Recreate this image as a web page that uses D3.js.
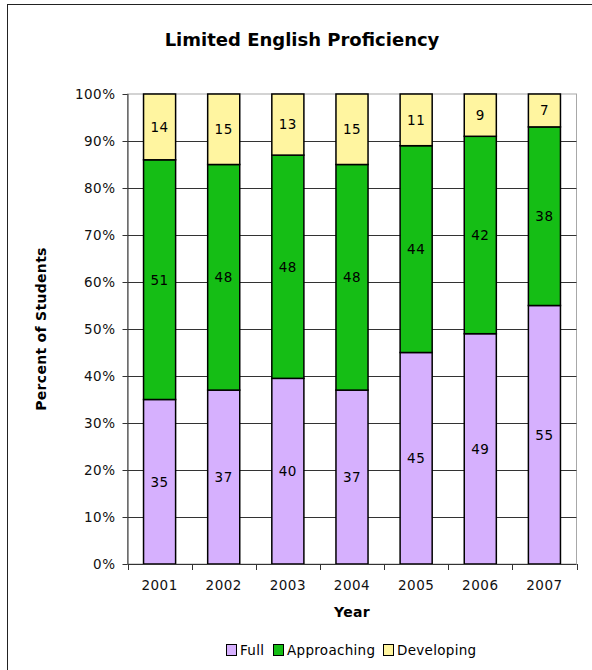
<!DOCTYPE html>
<html>
<head>
<meta charset="utf-8">
<script src="https://cdn.jsdelivr.net/npm/d3@7"></script>
<style>
  html, body { margin: 0; padding: 0; background: #fff; }
  svg { display: block; font-family: "DejaVu Sans", Verdana, sans-serif; }
</style>
</head>
<body>
<svg id="chart" width="592" height="670"></svg>
<script>
const years = ["2001", "2002", "2003", "2004", "2005", "2006", "2007"];
const full = [35, 37, 39.5, 37, 45, 49, 55];
const approaching = [51, 48, 47.5, 48, 44, 42, 38];
const developing = [14, 15, 13, 15, 11, 9, 7];
const seriesNames = ["Full", "Approaching", "Developing"];
const seriesColors = ["#d6b0fe", "#15be15", "#fff5a0"];
const yTicks = [0, 10, 20, 30, 40, 50, 60, 70, 80, 90, 100];
const titleText = "Limited English Proficiency";
const xTitle = "Year";
const yTitle = "Percent of Students";

const svg = d3.select("#chart");
const m = { left: 127.5, right: 576.5, top: 94, bottom: 564 };
const FS = "13.5px", LS = "0.5px";

// outer border
svg.append("rect").attr("x", 7.5).attr("y", 4.5).attr("width", 600).attr("height", 700)
  .attr("fill", "#fff").attr("stroke", "#222").attr("stroke-width", 1);

const table = years.map((y, i) => ({ year: y, Full: full[i], Approaching: approaching[i], Developing: developing[i] }));
const stack = d3.stack().keys(seriesNames)(table);

const x = d3.scaleBand().domain(years).range([m.left, m.right]).paddingInner(0.5).paddingOuter(0.25);
const y = d3.scaleLinear().domain([0, 100]).range([m.bottom, m.top]);

// plot area border
svg.append("rect").attr("x", m.left).attr("y", m.top).attr("width", m.right - m.left).attr("height", m.bottom - m.top)
  .attr("fill", "none").attr("stroke", "#a8a8a8").attr("stroke-width", 1);

// gridlines
svg.append("g").selectAll("line").data(yTicks.filter(t => t > 0 && t < 100)).join("line")
  .attr("x1", m.left).attr("x2", m.right)
  .attr("y1", d => Math.round(y(d)) + 0.5).attr("y2", d => Math.round(y(d)) + 0.5)
  .attr("stroke", "#333").attr("stroke-width", 1);

// bars
const colorOf = d3.scaleOrdinal().domain(seriesNames).range(seriesColors);
const groups = svg.append("g").selectAll("g").data(stack).join("g").attr("fill", d => colorOf(d.key));
groups.selectAll("rect").data(d => d).join("rect")
  .attr("x", d => x(d.data.year))
  .attr("width", x.bandwidth())
  .attr("y", d => y(d[1]))
  .attr("height", d => y(d[0]) - y(d[1]))
  .attr("stroke", "#000").attr("stroke-width", 1.5);

// labels
const lab = svg.append("g").attr("font-size", FS).attr("letter-spacing", LS).attr("fill", "#000").attr("text-anchor", "middle");
stack.forEach(s => {
  s.forEach(d => {
    lab.append("text")
      .attr("x", x(d.data.year) + x.bandwidth() / 2)
      .attr("y", (y(d[0]) + y(d[1])) / 2)
      .attr("dy", "0.36em")
      .text(Math.round(d[1] - d[0]));
  });
});

// y axis
const yAxis = d3.axisLeft(y).tickValues(yTicks).tickFormat(d => d + "%").tickSize(5).tickPadding(7);
const ya = svg.append("g").attr("transform", `translate(${m.left},0)`).call(yAxis);
ya.select(".domain").attr("stroke", "#333").attr("d", `M0.5,${m.top}V${m.bottom}`);
ya.selectAll(".tick line").attr("stroke", "#333");
ya.selectAll("text").attr("font-size", FS).attr("letter-spacing", LS).attr("font-family", "DejaVu Sans, Verdana, sans-serif").attr("fill", "#111");

// x axis
const xAxis = d3.axisBottom(x).tickSize(0).tickPadding(16);
const xa = svg.append("g").attr("transform", `translate(0,${m.bottom})`).call(xAxis);
xa.select(".domain").attr("stroke", "#333").attr("d", `M${m.left},0.5H${m.right}`);
xa.selectAll("text").attr("font-size", FS).attr("letter-spacing", LS).attr("font-family", "DejaVu Sans, Verdana, sans-serif").attr("fill", "#111");
const bounds = d3.range(years.length + 1).map(i => m.left + i * (m.right - m.left) / years.length);
xa.selectAll("line.bt").data(bounds).join("line").attr("class", "bt")
  .attr("x1", d => Math.round(d) + 0.5).attr("x2", d => Math.round(d) + 0.5)
  .attr("y1", 0).attr("y2", 6).attr("stroke", "#333");

// title
svg.append("text").attr("x", 302).attr("y", 40).attr("dy", "0.36em").attr("text-anchor", "middle")
  .attr("font-size", "18px").attr("font-weight", "bold").text(titleText);

// axis titles
svg.append("text").attr("x", (m.left + m.right) / 2).attr("y", 612).attr("dy", "0.36em").attr("text-anchor", "middle")
  .attr("font-size", "14px").attr("font-weight", "bold").attr("letter-spacing", "0.3px").text(xTitle);
svg.append("text").attr("transform", `translate(41,${(m.top + m.bottom) / 2}) rotate(-90)`).attr("dy", "0.36em")
  .attr("text-anchor", "middle").attr("font-size", "14px").attr("font-weight", "bold").attr("letter-spacing", "0.3px").text(yTitle);

// legend
const legendX = [226, 273, 383];
const leg = svg.append("g");
seriesNames.forEach((n, i) => {
  leg.append("rect").attr("x", legendX[i] + 0.5).attr("y", 644.5).attr("width", 10).attr("height", 11)
    .attr("fill", seriesColors[i]).attr("stroke", "#000").attr("stroke-width", 1);
  leg.append("text").attr("x", legendX[i] + 14).attr("y", 650).attr("dy", "0.36em")
    .attr("font-size", FS).attr("letter-spacing", "0.3px").text(n);
});
</script>
</body>
</html>
